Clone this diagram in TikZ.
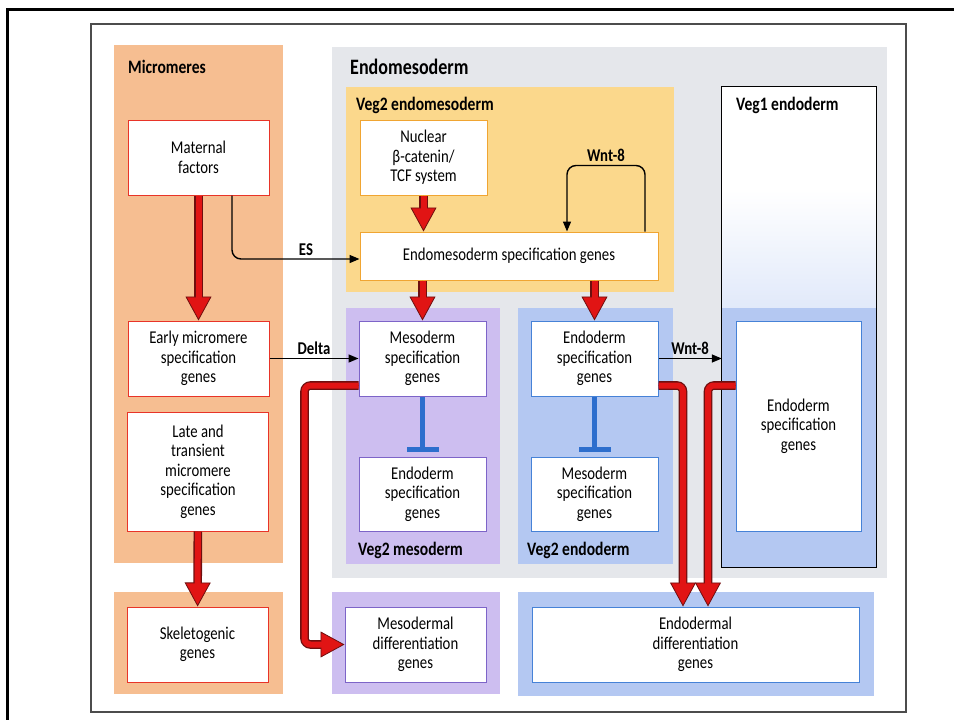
\documentclass[tikz,border=0pt]{standalone}
\usepackage{fontspec}
\setmainfont{Carlito}[FakeStretch=0.82]
\usepackage{tikz}
\usetikzlibrary{arrows.meta,calc,positioning}
\definecolor{microorange}{RGB}{246,190,145}
\definecolor{veggray}{RGB}{229,231,235}
\definecolor{vegyellow}{RGB}{251,216,140}
\definecolor{mesopurple}{RGB}{205,190,240}
\definecolor{endoblue}{RGB}{180,200,242}
\definecolor{microred}{RGB}{232,52,40}
\definecolor{vegorange}{RGB}{240,165,50}
\definecolor{mesoedge}{RGB}{125,100,200}
\definecolor{endoedge}{RGB}{70,130,215}
\definecolor{arrowred}{RGB}{225,20,20}
\definecolor{arrowdark}{RGB}{110,15,15}
\definecolor{inhibblue}{RGB}{45,110,205}
\newcommand{\genefont}{\fontsize{18}{19.5}\selectfont}
\newcommand{\tagfont}{\fontsize{19}{20}\selectfont\bfseries}

\begin{document}
\begin{tikzpicture}[x=1pt,y=-1pt,
  gene/.style={draw,fill=white,line width=1pt,align=center,inner sep=0pt,font=\genefont,minimum width=141pt,minimum height=75pt},
  micro/.style={gene,draw=microred},
  veg/.style={gene,draw=vegorange},
  meso/.style={gene,draw=mesoedge,minimum width=127pt},
  endo/.style={gene,draw=endoedge,minimum width=127pt},
  tag/.style={font=\tagfont,anchor=base west,inner sep=0pt},
  sig/.style={line width=1.4pt,-{Triangle[length=10pt,width=8pt]},rounded corners=9pt},
  sigtag/.style={font=\fontsize{18}{18}\selectfont\bfseries,above=3pt,inner sep=0pt},
  fat/.style={line width=0.8pt,draw=arrowdark,rounded corners=6pt,-{Triangle[length=24pt,width=26pt,fill=arrowred]},
    preaction={draw=arrowdark,line width=8.6pt,shorten >=18pt,arrows=-},
    postaction={draw=arrowred,line width=6pt,shorten >=17pt,arrows=-}},
  block/.style={line width=5pt,draw=inhibblue,-{Bar[width=32pt]},shorten >=5pt}]
\useasboundingbox (0,0) rectangle (954,720);
% frames
\draw[line width=3pt] (7,730) -- (7,9) -- (960,9);
\draw[line width=1.1pt,black!70] (91,24) rectangle (906,712);
% regions
\fill[microorange] (114,45) rectangle (283,563);
\fill[microorange] (114,592) rectangle (283,694);
\fill[veggray] (332,47) rectangle (887,578);
\fill[vegyellow] (346,87) rectangle (674,292);
\fill[mesopurple] (346,308) rectangle (500,564);
\fill[endoblue] (518,308) rectangle (673,564);
\fill[mesopurple] (332,592) rectangle (500,694);
\fill[endoblue] (518,592) rectangle (874,696);
\node[fill=white,minimum width=154pt,minimum height=480pt,inner sep=0pt] (veg1) at (799,327) {};
\shade[top color=white,bottom color=endoblue!40] (722,190) rectangle (876,308);
\fill[endoblue] (722,308) rectangle (veg1.south east);
\draw[line width=1.2pt] (veg1.south west) rectangle (veg1.north east);
% region labels
\node[tag] (micro) at (128,73) {Micromeres};
\node[tag,font=\fontsize{22}{22}\selectfont\bfseries] (endomeso) at (350,74) {Endomesoderm};
\node[tag] (veg2em) at (356,110) {Veg2 endomesoderm};
\node[tag] (veg1tag) at (736,110) {Veg1 endoderm};
\node[tag] (veg2m) at (358,555) {Veg2 mesoderm};
\node[tag] (veg2e) at (527,555) {Veg2 endoderm};
% genes
\node[micro] (maternal) at (198.5,157.5) {Maternal\\factors};
\node[micro] (early) at (198.5,358.5) {Early micromere\\specification\\genes};
\node[micro,minimum height=119pt] (late) at (198,471.5) {Late and\\transient\\micromere\\specification\\genes};
\node[micro] (skeleto) at (197.5,644.5) {Skeletogenic\\genes};
\node[veg,minimum width=127pt] (catenin) at (423.5,157.5) {Nuclear\\β-catenin/\\TCF system};
\node[veg,minimum width=298pt,minimum height=48pt] (emspec) at (509,256) {Endomesoderm specification genes};
\node[meso] (mesospec) at (422.5,358.5) {Mesoderm\\specification\\genes};
\node[meso,minimum height=74pt] (endoinm) at (422.5,494) {Endoderm\\specification\\genes};
\node[endo] (endospec) at (594.5,358.5) {Endoderm\\specification\\genes};
\node[endo,minimum height=74pt] (mesoine) at (594.5,494) {Mesoderm\\specification\\genes};
\node[endo,minimum width=125pt,minimum height=210pt] (veg1spec) at (798.5,426) {Endoderm\\specification\\genes};
\node[meso,minimum width=141pt] (mesodiff) at (415.5,644.5) {Mesodermal\\differentiation\\genes};
\node[endo,minimum width=327pt] (endodiff) at (695.5,644.5) {Endodermal\\differentiation\\genes};
% activation
\draw[fat] (maternal) -- (early);
\draw[fat] (late) -- (skeleto);
\draw[fat] (catenin) -- (catenin |- emspec.north);
\draw[fat] (mesospec |- emspec.south) -- (mesospec);
\draw[fat] (endospec |- emspec.south) -- (endospec);
\draw[fat] ([yshift=-27pt]mesospec.west) -- ++(-54,0) |- (mesodiff.west);
\coordinate (split) at ([yshift=-27pt]endospec.east);
\draw[fat] (split) -| ([xshift=-12.5pt]endodiff.north);
\draw[fat] (split -| veg1spec.west) -| ([xshift=12.5pt]endodiff.north);
% signals
\draw[sig] ([xshift=33.5pt]maternal.south) |- node[sigtag,pos=0.79]{ES} ([yshift=-3pt]emspec.west);
\draw[sig] (early) -- node[sigtag]{Delta} (mesospec);
\draw[sig] ([xshift=136pt]emspec.north) -- ++(0,-66) -| node[sigtag,pos=0.25]{Wnt-8} ([xshift=58pt]emspec.north);
\draw[sig] (endospec) -- node[sigtag]{Wnt-8} (endospec -| veg1.west);
% repression
\draw[block] (mesospec) -- (endoinm);
\draw[block] (endospec) -- (mesoine);
\end{tikzpicture}
\end{document}
